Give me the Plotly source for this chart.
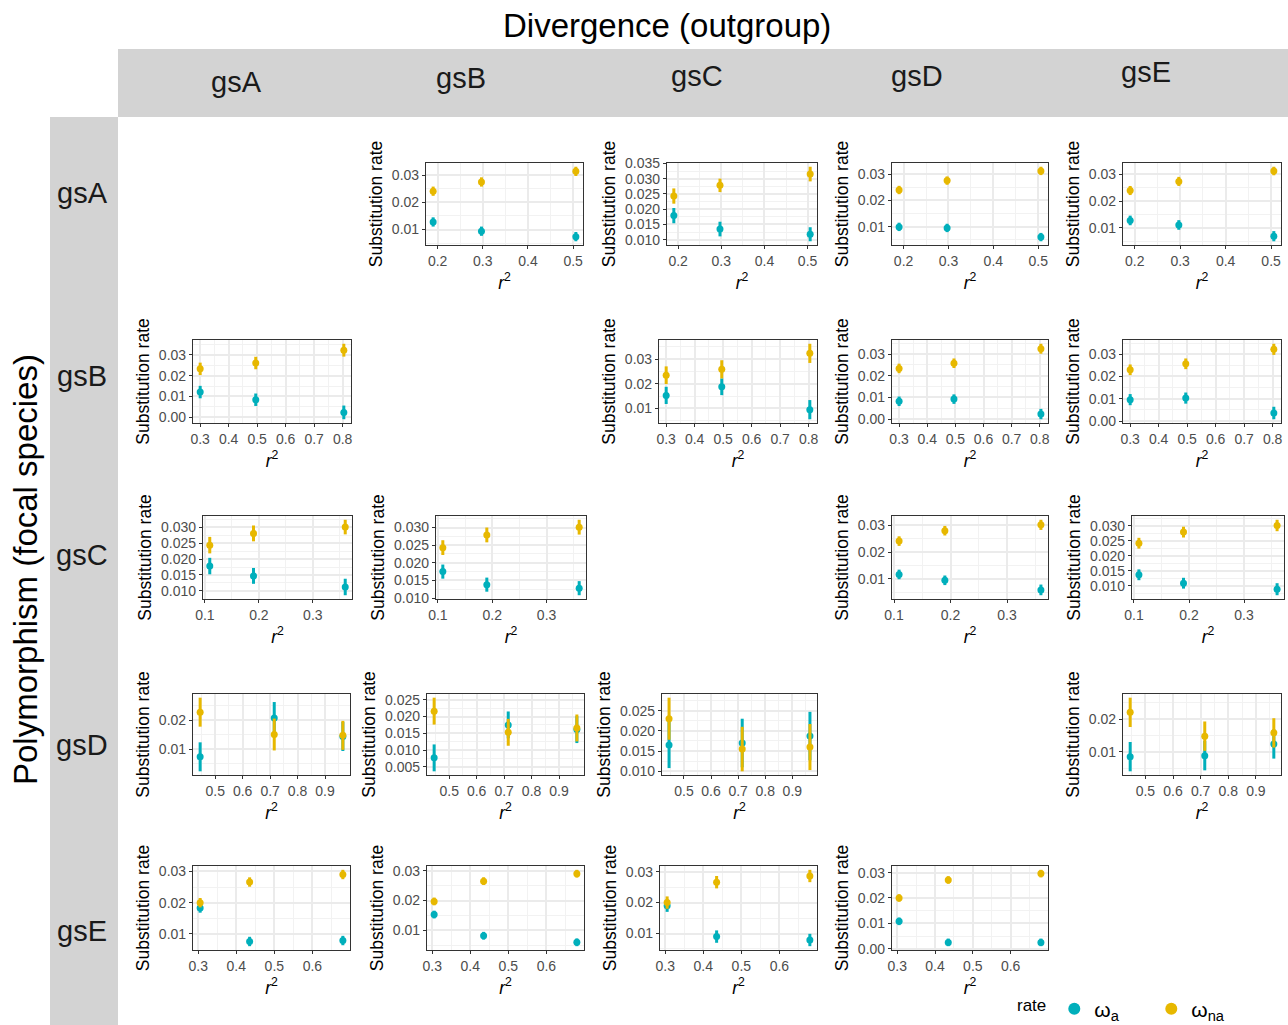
import plotly.graph_objects as go

groups = ["gsA", "gsB", "gsC", "gsD", "gsE"]

# r^2 of focal species (row)
r2_gsA = [0.19, 0.297, 0.506]
r2_gsB = [0.30, 0.495, 0.804]
r2_gsC = [0.109, 0.19, 0.36]
r2_gsD = [0.445, 0.715, 0.965]
r2_gsE = [0.305, 0.435, 0.68]

# omega_a (teal) and omega_na (gold), keyed by outgroup column
wa_gsA = {"gsB": [0.0128, 0.0094, 0.0074], "gsC": [0.0179, 0.0135, 0.0118],
          "gsD": [0.0099, 0.0095, 0.0060], "gsE": [0.0128, 0.0111, 0.0069]}
wa_err_gsA = {"gsB": [0.0017, 0.0017, 0.0017], "gsC": [0.0025, 0.0024, 0.0023],
              "gsD": [0.0016, 0.0016, 0.0016], "gsE": [0.0018, 0.0018, 0.0019]}
wna_gsA = {"gsB": [0.0241, 0.0275, 0.0314], "gsC": [0.0243, 0.0278, 0.0315],
           "gsD": [0.0240, 0.0276, 0.0313], "gsE": [0.0240, 0.0274, 0.0313]}
wna_err_gsA = {"gsB": [0.0017, 0.0017, 0.0017], "gsC": [0.0025, 0.0022, 0.0024],
               "gsD": [0.0016, 0.0016, 0.0016], "gsE": [0.0017, 0.0017, 0.0016]}

wa_gsB = {"gsA": [0.0121, 0.0084, 0.0023], "gsC": [0.0153, 0.0188, 0.0095],
          "gsD": [0.0082, 0.0092, 0.0023], "gsE": [0.0096, 0.0103, 0.0036]}
wa_err_gsB = {"gsA": [0.0030, 0.0030, 0.0033], "gsC": [0.0035, 0.0034, 0.0039],
              "gsD": [0.0022, 0.0022, 0.0024], "gsE": [0.0025, 0.0025, 0.0028]}
wna_gsB = {"gsA": [0.0233, 0.0261, 0.0323], "gsC": [0.0235, 0.0259, 0.0324],
           "gsD": [0.0234, 0.0258, 0.0325], "gsE": [0.0230, 0.0257, 0.0322]}
wna_err_gsB = {"gsA": [0.0030, 0.0030, 0.0031], "gsC": [0.0036, 0.0037, 0.0039],
               "gsD": [0.0022, 0.0022, 0.0023], "gsE": [0.0024, 0.0024, 0.0025]}

wa_gsC = {"gsA": [0.0178, 0.0147, 0.0112], "gsB": [0.0175, 0.0138, 0.0128],
          "gsD": [0.0116, 0.0094, 0.0058], "gsE": [0.0137, 0.0109, 0.0089]}
wa_err_gsC = {"gsA": [0.0026, 0.0025, 0.0026], "gsB": [0.0020, 0.0020, 0.0020],
              "gsD": [0.0018, 0.0018, 0.0020], "gsE": [0.0018, 0.0018, 0.0020]}
wna_gsC = {"gsA": [0.0244, 0.0281, 0.0301], "gsB": [0.0243, 0.0279, 0.0301],
           "gsD": [0.0241, 0.0280, 0.0302], "gsE": [0.0242, 0.0279, 0.0301]}
wna_err_gsC = {"gsA": [0.0026, 0.0025, 0.0023], "gsB": [0.0021, 0.0021, 0.0021],
               "gsD": [0.0018, 0.0018, 0.0019], "gsE": [0.0018, 0.0018, 0.0019]}

wa_gsD = {"gsA": [0.0073, 0.0207, 0.0143], "gsB": [0.0077, 0.0175, 0.0161],
          "gsC": [0.0165, 0.0170, 0.0187], "gsE": [0.0085, 0.0088, 0.0124]}
wa_err_gsD = {"gsA": [0.0050, 0.0055, 0.0050], "gsB": [0.0040, 0.0040, 0.0040],
              "gsC": [0.0057, 0.0060, 0.0060], "gsE": [0.0045, 0.0045, 0.0045]}
wna_gsD = {"gsA": [0.0227, 0.0150, 0.0147], "gsB": [0.0216, 0.0153, 0.0166],
           "gsC": [0.0230, 0.0155, 0.0160], "gsE": [0.0221, 0.0148, 0.0158]}
wna_err_gsD = {"gsA": [0.0050, 0.0055, 0.0050], "gsB": [0.0040, 0.0040, 0.0040],
               "gsC": [0.0052, 0.0055, 0.0057], "gsE": [0.0045, 0.0045, 0.0045]}

wa_gsE = {"gsA": [0.0183, 0.0076, 0.0079], "gsB": [0.0153, 0.0082, 0.0060],
          "gsC": [0.0190, 0.0090, 0.0079], "gsD": [0.0108, 0.0025, 0.0025]}
wa_err_gsE = {"gsA": [0.0015, 0.0015, 0.0015], "gsB": [0.0013, 0.0013, 0.0013],
              "gsC": [0.0020, 0.0020, 0.0020], "gsD": [0.0015, 0.0015, 0.0015]}
wna_gsE = {"gsA": [0.0200, 0.0266, 0.0290], "gsB": [0.0197, 0.0265, 0.0290],
           "gsC": [0.0200, 0.0266, 0.0286], "gsD": [0.0200, 0.0271, 0.0296]}
wna_err_gsE = {"gsA": [0.0015, 0.0015, 0.0015], "gsB": [0.0013, 0.0013, 0.0013],
               "gsC": [0.0020, 0.0020, 0.0020], "gsD": [0.0015, 0.0015, 0.0015]}

# y tick step per panel (tick labels)
ystep_gsA = {"gsB": 0.01, "gsC": 0.005, "gsD": 0.01, "gsE": 0.01}
ystep_gsB = {"gsA": 0.01, "gsC": 0.01, "gsD": 0.01, "gsE": 0.01}
ystep_gsC = {"gsA": 0.005, "gsB": 0.005, "gsD": 0.01, "gsE": 0.005}
ystep_gsD = {"gsA": 0.01, "gsB": 0.005, "gsC": 0.005, "gsE": 0.01}
ystep_gsE = {"gsA": 0.01, "gsB": 0.01, "gsC": 0.01, "gsD": 0.01}
xstep = 0.1

rows = {
    "gsA": (r2_gsA, wa_gsA, wa_err_gsA, wna_gsA, wna_err_gsA, ystep_gsA),
    "gsB": (r2_gsB, wa_gsB, wa_err_gsB, wna_gsB, wna_err_gsB, ystep_gsB),
    "gsC": (r2_gsC, wa_gsC, wa_err_gsC, wna_gsC, wna_err_gsC, ystep_gsC),
    "gsD": (r2_gsD, wa_gsD, wa_err_gsD, wna_gsD, wna_err_gsD, ystep_gsD),
    "gsE": (r2_gsE, wa_gsE, wa_err_gsE, wna_gsE, wna_err_gsE, ystep_gsE),
}

# ---------------- layout (pixel boxes of plot areas) ----------------
W, H = 1288, 1025
row_y = {"gsA": (163, 245), "gsB": (340, 423), "gsC": (516, 599),
         "gsD": (694, 775), "gsE": (866, 950)}
col_x = {
    "gsA": {"gsB": (426, 583), "gsC": (667, 817), "gsD": (892, 1048), "gsE": (1123, 1281)},
    "gsB": {"gsA": (193, 351), "gsC": (659, 817), "gsD": (892, 1048), "gsE": (1123, 1281)},
    "gsC": {"gsA": (203, 352), "gsB": (436, 586), "gsD": (892, 1048), "gsE": (1132, 1284)},
    "gsD": {"gsA": (193, 350), "gsB": (427, 584), "gsC": (662, 817), "gsE": (1123, 1281)},
    "gsE": {"gsA": (193, 350), "gsB": (427, 584), "gsC": (660, 817), "gsD": (892, 1048)},
}

TEAL = "#00AFBB"
GOLD = "#E7B800"
FONT = "Liberation Sans, Arial, Helvetica, sans-serif"


def pxx(x):
    return x / W


def pyy(y):
    return 1 - y / H


def expand(lo, hi, f=0.05):
    d = hi - lo
    return [lo - f * d, hi + f * d]


fig = go.Figure()
layout = {}
k = 0
for r in groups:
    xs, wa, wae, wna, wnae, ystep = rows[r]
    for c in groups:
        if r == c:
            continue
        k += 1
        xa = "x" if k == 1 else f"x{k}"
        ya = "y" if k == 1 else f"y{k}"
        fig.add_trace(go.Scatter(
            x=xs, y=wa[c], mode="markers",
            error_y=dict(type="data", array=wae[c], color=TEAL, thickness=3, width=0),
            marker=dict(color=TEAL, size=7),
            name="ω<sub>a</sub>", legendgroup="a", showlegend=(k == 1),
            xaxis=xa, yaxis=ya))
        fig.add_trace(go.Scatter(
            x=xs, y=wna[c], mode="markers",
            error_y=dict(type="data", array=wnae[c], color=GOLD, thickness=3, width=0),
            marker=dict(color=GOLD, size=7),
            name="ω<sub>na</sub>", legendgroup="na", showlegend=(k == 1),
            xaxis=xa, yaxis=ya))
        lo = min(min(a - e for a, e in zip(wa[c], wae[c])), min(a - e for a, e in zip(wna[c], wnae[c])))
        hi = max(max(a + e for a, e in zip(wa[c], wae[c])), max(a + e for a, e in zip(wna[c], wnae[c])))
        yr = expand(lo, hi)
        xr = expand(min(xs), max(xs))
        x0, x1 = col_x[r][c]
        y0, y1 = row_y[r]
        st = ystep[c]
        common = dict(showline=True, linecolor="#333333", linewidth=1.2, mirror=True,
                      ticks="outside", ticklen=3, tickcolor="#333333", tickwidth=1,
                      showgrid=True, gridcolor="#EBEBEB", gridwidth=1.6, zeroline=False,
                      tickfont=dict(size=14, color="#4D4D4D", family=FONT))
        layout["xaxis" if k == 1 else f"xaxis{k}"] = dict(
            domain=[pxx(x0), pxx(x1)], anchor=ya, range=xr,
            tickmode="linear", tick0=0, dtick=xstep, tickformat=".1f",
            minor=dict(tick0=0, dtick=xstep / 2, showgrid=True, gridcolor="#F2F2F2", gridwidth=0.9, ticks=""),
            title=dict(text="<i>r</i><sup>2</sup>", font=dict(size=17.5, color="black", family=FONT), standoff=8),
            **common)
        layout["yaxis" if k == 1 else f"yaxis{k}"] = dict(
            domain=[pyy(y1), pyy(y0)], anchor=xa, range=yr,
            tickmode="linear", tick0=0, dtick=st, tickformat=(".2f" if st >= 0.01 else ".3f"),
            minor=dict(tick0=0, dtick=st / 2, showgrid=True, gridcolor="#F2F2F2", gridwidth=0.9, ticks=""),
            title=dict(text="Substitution rate", font=dict(size=17.5, color="black", family=FONT), standoff=4),
            **common)

shapes = [
    dict(type="rect", xref="paper", yref="paper", x0=pxx(118), x1=1, y0=pyy(117), y1=pyy(49),
         fillcolor="#D3D3D3", line=dict(width=0), layer="below"),
    dict(type="rect", xref="paper", yref="paper", x0=pxx(50), x1=pxx(118), y0=0, y1=pyy(117),
         fillcolor="#D3D3D3", line=dict(width=0), layer="below"),
]

col_lab_pos = {"gsA": (236, 82), "gsB": (461, 78), "gsC": (697, 76), "gsD": (917, 76), "gsE": (1146, 72)}
row_lab_pos = {"gsA": 193, "gsB": 376, "gsC": 555, "gsD": 745, "gsE": 931}
annotations = [
    dict(text="Divergence (outgroup)", x=pxx(667), y=pyy(25), xref="paper", yref="paper",
         showarrow=False, font=dict(size=33, color="black", family=FONT), xanchor="center", yanchor="middle"),
    dict(text="Polymorphism (focal species)", x=pxx(25), y=pyy(570), xref="paper", yref="paper",
         showarrow=False, textangle=-90, font=dict(size=33, color="black", family=FONT),
         xanchor="center", yanchor="middle"),
]
for g in groups:
    cx, cy = col_lab_pos[g]
    annotations.append(dict(text=g, x=pxx(cx), y=pyy(cy), xref="paper", yref="paper", showarrow=False,
                            font=dict(size=29, color="#1A1A1A", family=FONT), xanchor="center", yanchor="middle"))
    annotations.append(dict(text=g, x=pxx(82), y=pyy(row_lab_pos[g]), xref="paper", yref="paper",
                            showarrow=False, font=dict(size=29, color="#1A1A1A", family=FONT),
                            xanchor="center", yanchor="middle"))

fig.update_layout(
    width=W, height=H, margin=dict(l=0, r=0, t=0, b=0, pad=0, autoexpand=False),
    paper_bgcolor="white", plot_bgcolor="white",
    font=dict(family=FONT),
    shapes=shapes, annotations=annotations,
    legend=dict(orientation="h", x=pxx(1015), y=pyy(1009), xanchor="left", yanchor="middle",
                title=dict(text="rate", font=dict(size=17, color="black", family=FONT)),
                font=dict(size=21, color="black", family=FONT), bgcolor="rgba(0,0,0,0)",
                itemsizing="constant", itemwidth=30, entrywidth=52, entrywidthmode="pixels"),
    **layout,
)

fig.write_html("out.html", config={"displayModeBar": False},
               post_script="document.body.style.margin='0px';document.body.style.overflow='hidden';")
